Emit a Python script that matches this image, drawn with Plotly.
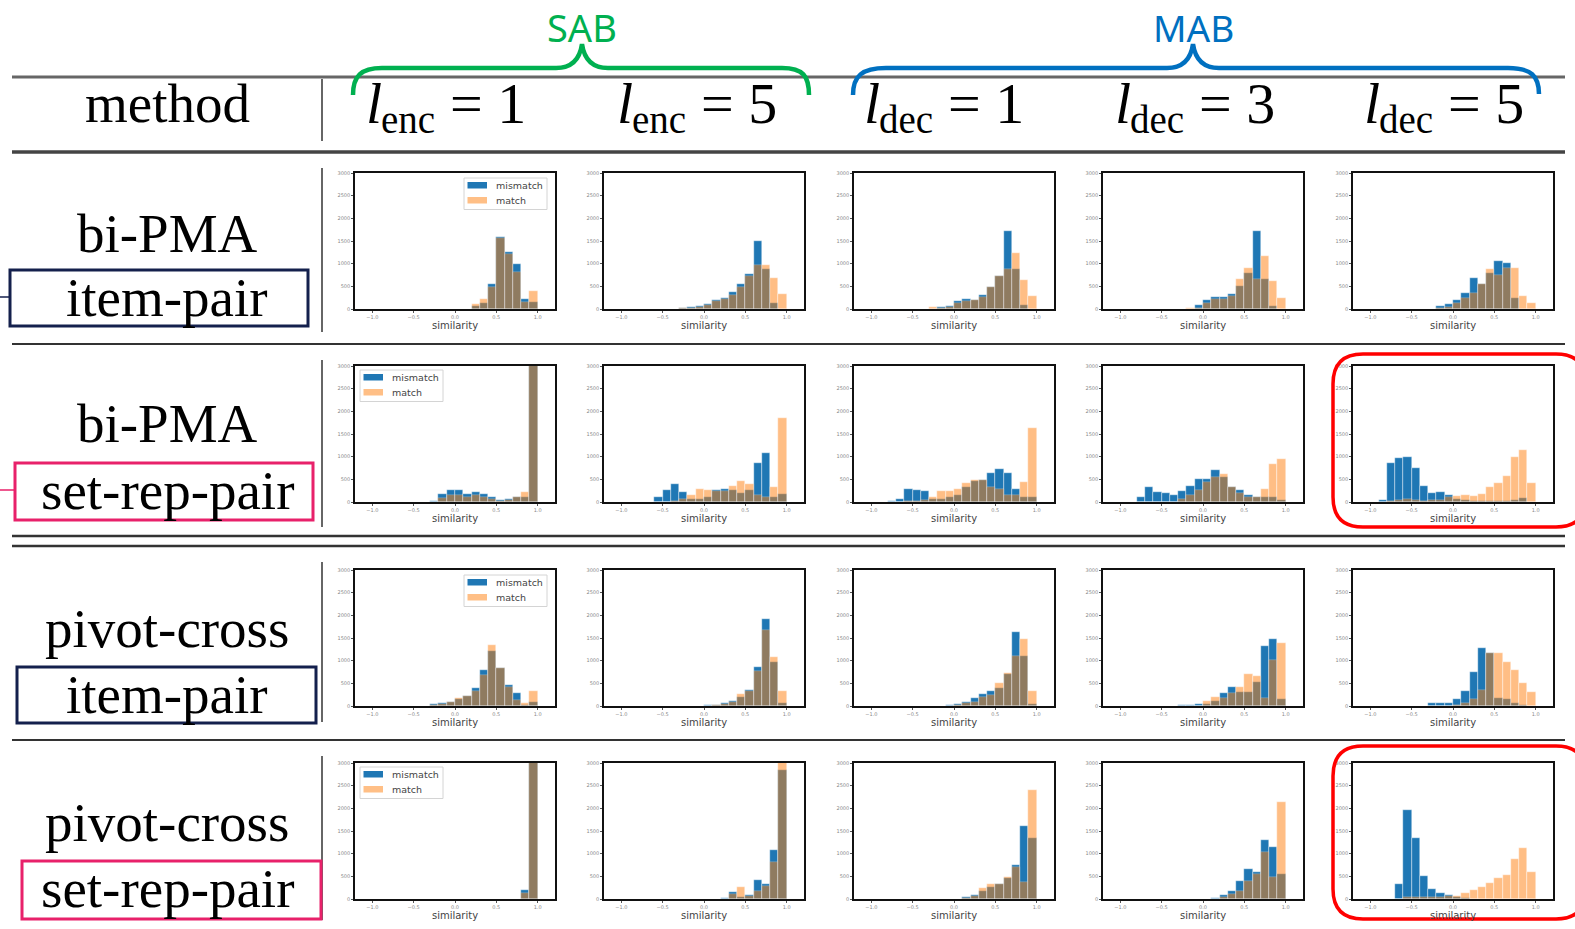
import plotly.graph_objects as go

W, H = 1575, 929

# ---------------- data ----------------
SIMILARITY_BINS = [-0.95, -0.85, -0.75, -0.65, -0.55, -0.45, -0.35, -0.25, -0.15, -0.05,
                   0.05, 0.15, 0.25, 0.35, 0.45, 0.55, 0.65, 0.75, 0.85, 0.95]
X_TICKS = [-1.0, -0.5, 0.0, 0.5, 1.0]
X_TICK_LABELS = ["\u22121.0", "\u22120.5", "0.0", "0.5", "1.0"]
Y_TICKS = [0, 500, 1000, 1500, 2000, 2500, 3000]
Y_TICK_LABELS = ["0", "500", "1000", "1500", "2000", "2500", "3000"]

HEADER_SUBSCRIPTS = ["enc", "enc", "dec", "dec", "dec"]
HEADER_VALUES = ["1", "5", "1", "3", "5"]
ROW_METHODS = ["bi-PMA", "bi-PMA", "pivot-cross", "pivot-cross"]
ROW_PAIRS = ["item-pair", "set-rep-pair", "item-pair", "set-rep-pair"]
SERIES_NAMES = ["mismatch", "match"]
LEGEND_SIDE = ["right", "left", "right", "left"]

r1c1_mis = [0,0,0,0,0,0,0,0,0,0,0,0,60,130,550,1580,1257,1000,220,150]
r1c1_mat = [0,0,0,0,0,0,0,0,0,0,0,0,100,220,485,1560,1220,824,150,390]
r1c2_mis = [0,0,0,0,0,0,0,20,35,75,120,205,250,380,550,770,1510,880,130,0]
r1c2_mat = [0,0,0,0,0,0,10,15,20,50,80,170,220,315,480,720,980,980,685,330]
r1c3_mis = [0,0,0,0,0,0,0,10,50,70,175,220,205,315,490,720,1730,880,80,0]
r1c3_mat = [0,0,0,0,0,0,0,35,20,40,130,175,200,265,490,720,880,1230,645,280]
r1c4_mis = [0,0,0,0,0,0,0,0,0,80,190,255,255,330,500,790,1730,665,75,0]
r1c4_mat = [0,0,0,0,0,0,0,0,15,30,130,225,225,290,665,915,665,1160,610,240]
r1c5_mis = [0,0,0,0,0,0,0,0,60,110,205,350,680,560,790,1060,1025,240,0,0]
r1c5_mat = [0,0,0,0,0,0,0,0,20,40,130,240,350,560,880,755,900,915,295,130]

r2c1_mis = [0,0,0,0,0,0,0,30,170,255,255,185,220,185,110,50,75,110,110,3400]
r2c1_mat = [0,0,0,0,0,0,0,0,90,150,150,110,150,110,60,20,45,110,220,3300]
r2c2_mis = [0,0,0,0,110,255,405,220,75,60,110,255,295,265,205,255,850,1085,110,185]
r2c2_mat = [0,0,0,0,0,10,20,60,145,280,255,235,235,345,460,405,145,110,330,1850]
r2c3_mis = [0,0,15,60,295,255,235,60,60,110,160,330,470,480,650,735,650,295,110,110]
r2c3_mat = [0,0,0,5,20,30,40,110,245,235,295,420,480,480,330,280,145,145,440,1630]
r2c4_mis = [0,0,110,330,220,205,160,235,350,500,515,700,550,330,255,145,110,110,110,40]
r2c4_mat = [0,0,0,0,0,0,10,75,160,255,440,550,625,330,205,110,110,280,845,940]
r2c5_mis = [0,50,850,960,985,740,350,200,220,150,75,40,30,20,20,20,20,40,90,0]
r2c5_mat = [0,0,20,50,60,40,30,40,50,110,135,165,135,170,320,410,570,1000,1150,410]

r3c1_mis = [0,0,0,0,0,0,10,45,75,80,150,220,390,785,1220,835,465,280,20,80]
r3c1_mat = [0,0,0,0,0,0,0,15,45,80,170,220,330,690,1335,835,430,135,60,335]
r3c2_mis = [0,0,0,0,0,0,0,0,0,5,20,25,75,120,190,355,850,1910,965,60]
r3c2_mat = [0,0,0,0,0,0,0,0,0,5,10,20,45,95,260,320,765,1675,1080,340]
r3c3_mis = [0,0,0,0,0,0,0,0,8,20,35,95,170,265,320,390,700,1630,1100,40]
r3c3_mat = [0,0,0,0,0,0,0,0,0,0,20,70,95,205,245,500,725,1100,1480,335]
r3c4_mis = [0,0,0,0,0,0,0,20,20,50,50,110,295,420,315,315,535,1320,1470,150]
r3c4_mat = [0,0,0,0,0,0,0,0,0,0,110,200,185,295,420,700,660,185,1005,1400]
r3c5_mis = [0,0,0,0,0,0,0,70,60,70,150,330,740,1270,1160,185,150,70,20,0]
r3c5_mat = [0,0,0,0,0,0,0,0,0,0,30,60,150,350,1160,1160,960,790,515,315]

r4c1_mis = [0,0,0,0,0,0,0,0,0,0,0,0,0,0,0,0,0,0,200,3400]
r4c1_mat = [0,0,0,0,0,0,0,0,0,0,0,0,0,0,0,0,0,0,135,3300]
r4c2_mis = [0,0,0,0,0,0,0,0,0,0,0,0,20,165,50,95,420,320,1075,2840]
r4c2_mat = [0,0,0,0,0,0,0,0,0,0,0,0,10,110,260,75,170,295,815,3200]
r4c3_mis = [0,0,0,0,0,0,0,0,0,0,10,50,95,170,260,320,460,755,1610,1350]
r4c3_mat = [0,0,0,0,0,0,0,0,0,0,5,30,70,235,320,335,495,705,370,2410]
r4c4_mis = [0,0,0,0,0,0,0,0,0,0,0,20,90,170,405,655,590,1300,1140,550]
r4c4_mat = [0,0,0,0,0,0,0,0,0,0,0,0,40,110,170,405,550,1030,490,2150]
r4c5_mis = [0,0,0,330,1970,1340,515,220,125,90,50,20,10,5,5,5,5,5,5,0]
r4c5_mat = [0,0,0,0,40,50,50,50,50,60,75,130,200,255,350,455,530,875,1115,590]

PANELS = [
    [(r1c1_mis, r1c1_mat), (r1c2_mis, r1c2_mat), (r1c3_mis, r1c3_mat), (r1c4_mis, r1c4_mat), (r1c5_mis, r1c5_mat)],
    [(r2c1_mis, r2c1_mat), (r2c2_mis, r2c2_mat), (r2c3_mis, r2c3_mat), (r2c4_mis, r2c4_mat), (r2c5_mis, r2c5_mat)],
    [(r3c1_mis, r3c1_mat), (r3c2_mis, r3c2_mat), (r3c3_mis, r3c3_mat), (r3c4_mis, r3c4_mat), (r3c5_mis, r3c5_mat)],
    [(r4c1_mis, r4c1_mat), (r4c2_mis, r4c2_mat), (r4c3_mis, r4c3_mat), (r4c4_mis, r4c4_mat), (r4c5_mis, r4c5_mat)],
]

# ---------------- layout geometry (pixels) ----------------
COL_X0 = [355, 604, 854, 1103, 1353]
PLOT_W = 200
ROW_Y0 = [173, 366, 570, 763]
PLOT_H = 136
HEADER_X0 = [364, 615, 862, 1113, 1362]

BLUE = "#1f77b4"
ORANGE = "#ff7f0e"
ORANGE_HALF = "rgba(255,127,14,0.5)"
SERIF = "Liberation Serif, DejaVu Serif, serif"
SANS = "DejaVu Sans, sans-serif"


def fx(x):
    return x / W


def fy(y):
    return 1 - y / H


def path(cmds):
    out = []
    for c in cmds:
        op = c[0]
        pts = c[1:]
        coords = []
        for i in range(0, len(pts), 2):
            coords.append(f"{fx(pts[i]):.5f},{fy(pts[i+1]):.5f}")
        out.append(op + " " + " ".join(coords))
    return " ".join(out)


fig = go.Figure()
layout_axes = {}

for r in range(4):
    for c in range(5):
        k = r * 5 + c + 1
        xa = "x" if k == 1 else f"x{k}"
        ya = "y" if k == 1 else f"y{k}"
        mis, mat = PANELS[r][c]
        fig.add_trace(go.Bar(
            x=SIMILARITY_BINS, y=mis, width=0.1, name=SERIES_NAMES[0],
            marker=dict(color=BLUE, line=dict(color="rgba(255,255,255,0.8)", width=0.5)),
            showlegend=False, xaxis=xa, yaxis=ya,
        ))
        fig.add_trace(go.Bar(
            x=SIMILARITY_BINS, y=mat, width=0.1, name=SERIES_NAMES[1],
            marker=dict(color=ORANGE, line=dict(color="rgba(255,255,255,0.8)", width=0.5)),
            opacity=0.5, showlegend=False, xaxis=xa, yaxis=ya,
        ))
        x0 = COL_X0[c]
        y0 = ROW_Y0[r]
        common = dict(showline=True, mirror=True, linecolor="#111", linewidth=1.6,
                      ticks="outside", ticklen=2, tickwidth=0.6, tickcolor="#555",
                      tickfont=dict(size=5, color="#888", family=SANS),
                      showgrid=False, zeroline=False, automargin=False, fixedrange=True)
        layout_axes["xaxis" if k == 1 else f"xaxis{k}"] = dict(
            domain=[fx(x0), fx(x0 + PLOT_W)], anchor=ya, range=[-1.21, 1.21],
            tickvals=X_TICKS, ticktext=X_TICK_LABELS,
            title=dict(text="similarity", font=dict(size=10, color="#444", family=SANS), standoff=1),
            **common)
        layout_axes["yaxis" if k == 1 else f"yaxis{k}"] = dict(
            domain=[fy(y0 + PLOT_H), fy(y0)], anchor=xa, range=[0, 3000],
            tickvals=Y_TICKS, ticktext=Y_TICK_LABELS, **common)

shapes = []
annotations = []


def hline(y, x0, x1, color, width):
    shapes.append(dict(type="line", xref="paper", yref="paper", x0=fx(x0), x1=fx(x1),
                       y0=fy(y), y1=fy(y), line=dict(color=color, width=width)))


def vline(x, y0, y1, color, width):
    shapes.append(dict(type="line", xref="paper", yref="paper", x0=fx(x), x1=fx(x),
                       y0=fy(y0), y1=fy(y1), line=dict(color=color, width=width)))


def rect(x0, y0, x1, y1, color, width, fill=None):
    d = dict(type="rect", xref="paper", yref="paper", x0=fx(x0), x1=fx(x1),
             y0=fy(y1), y1=fy(y0), line=dict(color=color, width=width))
    if fill is not None:
        d["fillcolor"] = fill
    shapes.append(d)


def text(x, y, s, size, color="black", family=SERIF, xanchor="center"):
    annotations.append(dict(x=fx(x), y=fy(y), xref="paper", yref="paper", text=s, showarrow=False,
                            xanchor=xanchor, yanchor="middle",
                            font=dict(size=size, color=color, family=family)))


# legends (matplotlib style) in the first column of each row
for r in range(4):
    px0 = COL_X0[0]
    py0 = ROW_Y0[r]
    if LEGEND_SIDE[r] == "right":
        lx0 = px0 + PLOT_W - 8 - 83
        ly0 = py0 + 5
    else:
        lx0 = px0 + 5
        ly0 = py0 + 4
    rect(lx0, ly0, lx0 + 83, ly0 + 31.5, "#d4d4d4", 1, "rgba(255,255,255,0.85)")
    rect(lx0 + 3.5, ly0 + 4, lx0 + 23, ly0 + 10.5, "rgba(0,0,0,0)", 0, BLUE)
    rect(lx0 + 3.5, ly0 + 19, lx0 + 23, ly0 + 25.5, "rgba(0,0,0,0)", 0, ORANGE_HALF)
    text(lx0 + 30, ly0 + 7.5, SERIES_NAMES[0], 9.5, "#444", SANS, "left")
    text(lx0 + 30, ly0 + 22.5, SERIES_NAMES[1], 9.5, "#444", SANS, "left")

# table rules
hline(77, 12, 1565, "#666", 3)
hline(152, 12, 1565, "#444", 3.5)
hline(344, 12, 1565, "#333", 2)
hline(536, 12, 1565, "#333", 2.5)
hline(546, 12, 1565, "#333", 2.5)
hline(740, 12, 1565, "#333", 2)
for (a, b) in [(79, 141), (168, 332), (360, 527), (562, 722), (756, 920)]:
    vline(322, a, b, "#333", 1.5)

# label boxes
NAVY = "#14204d"
PINK = "#e8216a"
rect(10, 270, 308, 326, NAVY, 3)
rect(15, 463, 313, 520, PINK, 3)
rect(17, 667, 316, 723, NAVY, 3)
rect(22, 861, 321, 919, PINK, 3)
hline(297, 0, 10, NAVY, 1.5)
hline(490, 0, 15, PINK, 1.5)

# braces
GREEN = "#00b050"
MABBLUE = "#0070c0"
shapes.append(dict(type="path", xref="paper", yref="paper", line=dict(color=GREEN, width=4.5),
                   path=path([("M", 353, 95), ("C", 353, 76, 361, 68, 382, 68), ("L", 556, 68),
                              ("C", 573, 68, 580, 58, 582, 44), ("C", 584, 58, 591, 68, 608, 68),
                              ("L", 782, 68), ("C", 803, 68, 809, 76, 809, 95)])))
shapes.append(dict(type="path", xref="paper", yref="paper", line=dict(color=MABBLUE, width=4.5),
                   path=path([("M", 853, 95), ("C", 853, 76, 862, 68, 886, 68), ("L", 1167, 68),
                              ("C", 1184, 68, 1191, 58, 1193, 44), ("C", 1195, 58, 1202, 68, 1219, 68),
                              ("L", 1508, 68), ("C", 1531, 68, 1539, 76, 1539, 94)])))

# red rounded highlight boxes
for (ya, yb) in [(354, 527), (746, 919)]:
    rr = 30
    shapes.append(dict(type="path", xref="paper", yref="paper", line=dict(color="#ff0000", width=3.5),
                       path=path([("M", 1363, ya), ("L", 1556, ya), ("Q", 1586, ya, 1586, ya + rr),
                                  ("L", 1586, yb - rr), ("Q", 1586, yb, 1556, yb), ("L", 1363, yb),
                                  ("Q", 1333, yb, 1333, yb - rr), ("L", 1333, ya + rr),
                                  ("Q", 1333, ya, 1363, ya), ("Z",)])))

# header row
text(167, 104, "method", 55)
for hx, sub, val in zip(HEADER_X0, HEADER_SUBSCRIPTS, HEADER_VALUES):
    text(hx, 104, "<i>l</i>", 58, xanchor="left")
    text(hx + 15, 119, sub, 39, xanchor="left")
    text(hx + 84, 104, "= " + val, 58, xanchor="left")

METHOD_Y = [233, 423, 628, 822]
PAIR_Y = [297, 490, 694, 888]
for r in range(4):
    text(167, METHOD_Y[r], ROW_METHODS[r], 55)
    text(167, PAIR_Y[r], ROW_PAIRS[r], 55)
text(582, 27, "SAB", 38, GREEN, "Noto Sans, DejaVu Sans")
text(1193, 27, "MAB", 37, MABBLUE, "Noto Sans, DejaVu Sans")

fig.update_layout(
    width=W, height=H, autosize=False,
    margin=dict(l=0, r=0, t=0, b=0, pad=0),
    paper_bgcolor="white", plot_bgcolor="white",
    barmode="overlay", bargap=0, showlegend=False,
    shapes=shapes, annotations=annotations,
    **layout_axes,
)

fig.write_html("out.html", config={"displayModeBar": False},
               post_script="document.body.style.margin='0';document.body.style.overflow='hidden';")
